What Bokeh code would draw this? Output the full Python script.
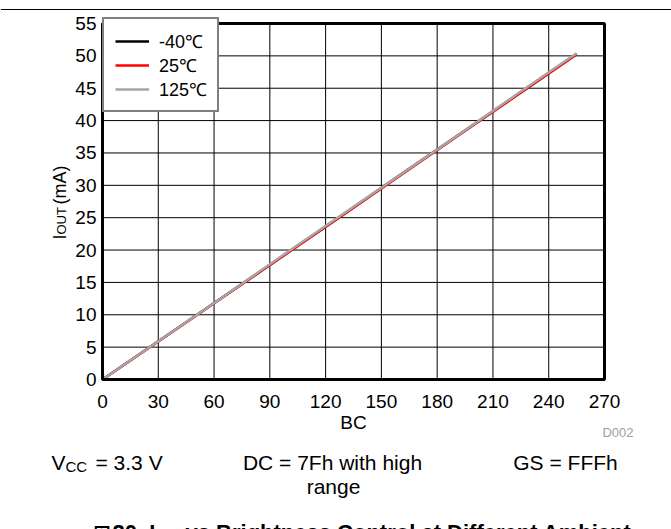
import math
from bokeh.plotting import figure
from bokeh.models import Range1d, FixedTicker, Legend, LegendItem
from bokeh.core.properties import value
from bokeh.embed import file_html
from bokeh.resources import INLINE

# ---- data ----
bc = [0, 32, 64, 96, 128, 160, 192, 224, 255]
iout_m40 = [0.0, 6.3, 12.6, 18.9, 25.2, 31.6, 37.9, 44.2, 50.3]
iout_25 = [0.0, 6.25, 12.55, 18.85, 25.15, 31.5, 37.8, 44.1, 50.2]
iout_125 = [0.0, 6.3, 12.6, 19.0, 25.3, 31.6, 37.9, 44.3, 50.4]
series_names = ["-40\u2103", "25\u2103", "125\u2103"]
x_ticks = [0, 30, 60, 90, 120, 150, 180, 210, 240, 270]
y_ticks = [0, 5, 10, 15, 20, 25, 30, 35, 40, 45, 50, 55]

FONT = "Liberation Sans"
W, H = 671, 529
FL, FR, FT, FB = 102, 604, 23, 379   # chart-area edges in page pixels
X0, X1, Y0, Y1 = 0, 270, 0, 55
LEG_H = 89


def dx(px):
    return X0 + (px - FL) * (X1 - X0) / (FR - FL)


def dy(py):
    return Y0 + (FB - py) * (Y1 - Y0) / (FB - FT)


# the frame covers the whole canvas; the chart area is the data box 0..270 x 0..55
p = figure(width=W, height=H, output_backend="svg", toolbar_location=None,
           x_range=Range1d(dx(0), dx(W)), y_range=Range1d(dy(H), dy(0)),
           min_border=0, min_border_left=0, min_border_right=0,
           min_border_top=0, min_border_bottom=0)
p.background_fill_color = "white"
p.border_fill_color = "white"
p.outline_line_color = None
p.xgrid.visible = False
p.ygrid.visible = False

for ax, ticks, bnds in ((p.xaxis[0], x_ticks, (X0, X1)),
                        (p.yaxis[0], y_ticks, (Y0, Y1))):
    ax.ticker = FixedTicker(ticks=ticks)
    ax.fixed_location = 0
    ax.bounds = bnds
    ax.major_tick_in = 0
    ax.major_tick_out = 0
    ax.minor_tick_in = 0
    ax.minor_tick_out = 0
    ax.axis_line_color = None
    ax.major_label_text_font = FONT
    ax.major_label_text_font_size = "19px"
    ax.major_label_text_color = "black"
p.xaxis[0].major_label_standoff = 15
p.yaxis[0].major_label_standoff = 6

# grid lines at the tick positions
p.segment(x0=x_ticks, y0=[Y0] * len(x_ticks), x1=x_ticks, y1=[Y1] * len(x_ticks),
          line_color="black", line_width=1)
p.segment(x0=[X0] * len(y_ticks), y0=y_ticks, x1=[X1] * len(y_ticks), y1=y_ticks,
          line_color="black", line_width=1)

r1 = p.line(bc, iout_m40, line_color="black", line_width=2.5)
r2 = p.line(bc, iout_25, line_color="#FF0000", line_width=2.5)
r3 = p.line(bc, iout_125, line_color="#A6A6A6", line_width=2.5)

# chart border
p.quad(left=[X0], right=[X1], bottom=[Y0], top=[Y1], fill_color=None,
       line_color="black", line_width=3)

legend = Legend(items=[LegendItem(label=series_names[0], renderers=[r1]),
                       LegendItem(label=series_names[1], renderers=[r2]),
                       LegendItem(label=series_names[2], renderers=[r3])],
                location=(FL, H - FT - LEG_H), margin=0,
                padding=dict(left=11, right=10, top=10, bottom=9), spacing=0,
                label_height=22, glyph_height=22, glyph_width=34,
                label_standoff=10, label_text_font=FONT,
                label_text_font_size="18px", label_text_color="black",
                label_text_line_height=1.0,
                border_line_color="black", border_line_width=2,
                background_fill_alpha=1.0)
p.add_layout(legend, "center")

# top rule across the page
p.segment(x0=[dx(0)], y0=[dy(9)], x1=[dx(W)], y1=[dy(9)],
          line_color="black", line_width=1.2)


def txt(s, x, y, size, align="left", baseline="alphabetic", color="black",
        style="normal", angle=0.0, font=FONT):
    p.text(x=[dx(x)], y=[dy(y)], text=[s], text_font=value(font),
           text_font_size=value(size), text_align=align,
           text_baseline=baseline, text_color=color,
           text_font_style=style, angle=angle)


# axis titles
txt("BC", 353, 422, "19px", align="center", baseline="middle")
txt("I", 59, 239, "18px", angle=math.pi / 2)
txt("OUT", 61, 234, "13px", angle=math.pi / 2)
txt("(mA)", 59, 204, "18px", angle=math.pi / 2)

# figure id
txt("D002", 633, 432, "13px", align="right", baseline="middle", color="#A0A0A0")

# conditions
txt("V", 51, 462, "21px")
txt("CC", 65, 466, "15px")
txt("= 3.3 V", 95, 462, "21px")
txt("DC = 7Fh with high", 332, 462, "21px", align="center")
txt("range", 333, 486, "21px", align="center")
txt("GS = FFFh", 565, 462, "21px", align="center")

# caption (cut off at the bottom of the page)
txt("\u56f3", 93, 532, "17px", style="bold", font="Noto Sans CJK JP")
txt("20. I", 112, 532, "22px", style="bold")
txt("OUT", 152, 536, "15px", style="bold")
txt("vs Brightness Control at Different Ambient", 185, 532, "22px", style="bold")

open("out.html", "w").write(file_html(p, INLINE))
